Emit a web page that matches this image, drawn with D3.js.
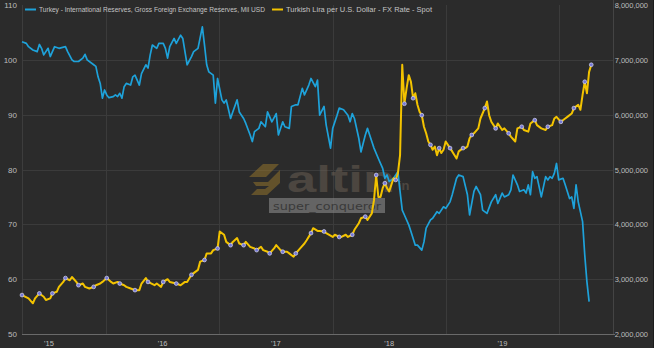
<!DOCTYPE html>
<html>
<head>
<meta charset="utf-8">
<script src="https://cdn.jsdelivr.net/npm/d3@7"></script>
<style>
  html, body { margin: 0; padding: 0; background: #2b2b2b; }
  svg { display: block; font-family: "Liberation Sans", Arial, sans-serif; }
</style>
</head>
<body>
<svg id="chart" width="654" height="348"></svg>
<script>
// weekly readings, "year-week" (%Y-%W)
const reserveWeeks = [
  "2015-14","2015-16","2015-17","2015-19","2015-21","2015-22","2015-23","2015-24","2015-26","2015-27","2015-29","2015-31","2015-34","2015-35","2015-37","2015-38","2015-40","2015-42","2015-43","2015-44","2015-47","2015-48","2015-49","2015-50","2015-51",
  "2016-0","2016-1","2016-2","2016-4","2016-5","2016-6","2016-7","2016-8","2016-9","2016-10","2016-12","2016-13","2016-14","2016-16","2016-17","2016-19","2016-20","2016-21","2016-22","2016-24","2016-25","2016-27","2016-28","2016-29","2016-30","2016-32","2016-33","2016-35","2016-36","2016-38","2016-40","2016-41","2016-43","2016-45","2016-46","2016-47","2016-48","2016-50","2016-51",
  "2017-0","2017-2","2017-3","2017-4","2017-6","2017-7","2017-9","2017-10","2017-12","2017-13","2017-15","2017-16","2017-17","2017-19","2017-20","2017-22","2017-23","2017-25","2017-27","2017-28","2017-30","2017-31","2017-33","2017-34","2017-36","2017-37","2017-39","2017-40","2017-42","2017-43","2017-45","2017-46","2017-47","2017-49","2017-50","2017-52",
  "2018-1","2018-3","2018-4","2018-6","2018-8","2018-9","2018-10","2018-11","2018-13","2018-14","2018-16","2018-17","2018-19","2018-20","2018-22","2018-24","2018-25","2018-26","2018-27","2018-29","2018-31","2018-32","2018-33","2018-34","2018-36","2018-37","2018-39","2018-40","2018-42","2018-43","2018-44","2018-46","2018-47","2018-49","2018-50","2018-52",
  "2019-0","2019-2","2019-3","2019-5","2019-6","2019-8","2019-10","2019-11","2019-13","2019-14","2019-16","2019-17","2019-19","2019-21","2019-23","2019-24","2019-26","2019-27","2019-29","2019-30","2019-31","2019-33","2019-34","2019-36","2019-37","2019-38","2019-39","2019-40","2019-41","2019-42","2019-44","2019-46","2019-47","2019-48","2019-49","2019-50","2019-51",
  "2020-0","2020-2","2020-3","2020-5","2020-6","2020-7","2020-8","2020-9","2020-11","2020-12","2020-13","2020-14"
];
// millions (right axis)
const reserveMn = [
  7.33,7.30,7.24,7.18,7.15,7.28,7.21,7.09,7.21,7.06,7.24,7.21,7.24,7.15,7.00,6.97,6.97,7.03,7.10,7.00,6.91,6.88,6.69,6.57,6.30,
  6.45,6.36,6.31,6.33,6.36,6.33,6.39,6.30,6.51,6.57,6.54,6.69,6.72,6.54,6.75,6.91,6.85,7.09,7.27,7.21,7.30,7.30,7.21,7.03,7.24,7.39,7.30,7.45,7.39,6.91,7.06,7.15,7.21,7.60,7.27,6.91,6.78,6.72,6.21,
  6.66,6.27,6.21,6.27,5.93,6.05,6.27,6.05,5.93,5.84,5.63,5.51,5.69,5.75,5.87,5.78,6.05,5.87,6.02,5.63,5.87,5.78,5.75,6.15,6.18,6.18,6.48,6.36,6.54,6.66,6.51,6.63,5.99,6.15,5.81,5.39,
  5.75,5.99,6.12,6.09,5.99,5.87,6.02,5.93,5.57,5.32,5.63,5.75,5.51,5.39,5.20,5.02,4.84,4.90,4.78,4.84,4.96,4.60,4.26,4.17,3.99,3.87,3.62,3.62,3.53,3.68,3.93,4.08,4.11,4.23,4.20,4.32,
  4.29,4.41,4.54,4.84,4.90,4.87,4.54,4.17,4.60,4.69,4.54,4.26,4.20,4.41,4.54,4.38,4.57,4.50,4.54,4.63,4.90,4.72,4.60,4.63,4.57,4.72,4.54,4.96,4.84,4.87,4.50,4.87,4.81,4.87,4.84,4.93,5.11,
  4.81,4.84,4.72,4.47,4.50,4.29,4.72,4.41,4.05,3.44,2.95,2.59
];

const liraWeeks = [
  "2015-14","2015-17","2015-19","2015-20","2015-22","2015-24","2015-25","2015-27","2015-28","2015-30","2015-31","2015-33","2015-34","2015-36","2015-37","2015-39","2015-40","2015-42","2015-43","2015-45","2015-47","2015-48","2015-50","2015-51",
  "2016-1","2016-3","2016-4","2016-6","2016-7","2016-9","2016-10","2016-12","2016-14","2016-16","2016-17","2016-19","2016-20","2016-23","2016-24","2016-26","2016-27","2016-29","2016-30","2016-32","2016-33","2016-35","2016-37","2016-38","2016-40","2016-41","2016-43","2016-44","2016-46","2016-47","2016-49","2016-50",
  "2017-0","2017-1","2017-3","2017-4","2017-6","2017-7","2017-9","2017-10","2017-12","2017-13","2017-15","2017-17","2017-18","2017-20","2017-21","2017-23","2017-24","2017-26","2017-27","2017-29","2017-30","2017-32","2017-33","2017-35","2017-36","2017-38","2017-40","2017-41","2017-43","2017-44","2017-46","2017-47","2017-49","2017-50",
  "2018-1","2018-2","2018-4","2018-5","2018-7","2018-8","2018-10","2018-11","2018-13","2018-14","2018-16","2018-17","2018-19","2018-20","2018-21","2018-22","2018-23","2018-24","2018-25","2018-26","2018-27","2018-29","2018-30","2018-31","2018-32","2018-33","2018-34","2018-35","2018-36","2018-37","2018-38","2018-39","2018-40","2018-41","2018-42","2018-43","2018-44","2018-45","2018-46","2018-47","2018-48","2018-49","2018-50","2018-51","2018-52",
  "2019-0","2019-2","2019-3","2019-5","2019-6","2019-8","2019-9","2019-10","2019-11","2019-12","2019-13","2019-15","2019-16","2019-18","2019-19","2019-20","2019-21","2019-23","2019-24","2019-26","2019-27","2019-29","2019-30","2019-32","2019-33","2019-35","2019-36","2019-38","2019-39","2019-41","2019-42","2019-44","2019-46","2019-47","2019-49","2019-50","2019-51",
  "2020-1","2020-3","2020-4","2020-6","2020-7","2020-9","2020-10","2020-11","2020-12","2020-13","2020-14","2020-15"
];
// left axis
const liraValues = [
  57.1,56.5,55.6,56.5,57.4,56.8,56.2,56.5,57.4,57.7,58.6,59.5,60.2,59.8,60.4,59.5,58.9,59.2,58.6,58.3,58.6,58.9,59.2,59.5,
  60.2,59.5,59.2,59.5,59.2,58.9,58.6,58.3,58.0,58.0,59.2,60.2,59.5,58.9,59.2,58.6,59.5,60.0,59.5,59.3,59.2,58.9,59.5,59.5,60.8,61.1,61.7,63.2,63.5,64.7,64.7,65.3,
  65.6,68.7,68.1,66.8,66.2,66.8,67.5,66.5,66.2,66.8,65.9,65.6,65.3,65.9,65.3,65.0,64.7,65.6,66.2,65.3,65.0,65.0,64.7,64.1,64.7,65.6,66.5,67.1,68.4,69.3,68.8,68.8,68.7,68.4,
  67.7,68.1,67.7,67.7,68.1,67.7,68.1,69.0,70.2,71.1,71.4,70.8,72.0,74.4,79.0,75.0,75.0,76.6,77.5,76.6,76.0,78.4,78.1,79.3,82.6,99.1,92.0,94.8,97.2,96.0,93.0,93.9,91.8,90.5,89.9,87.8,86.6,85.1,84.5,83.6,84.2,82.6,83.9,83.0,83.6,
  85.1,83.9,83.3,82.0,83.3,83.9,83.9,84.2,85.7,86.3,86.6,87.5,89.3,91.2,92.4,89.9,88.7,87.5,88.4,87.2,87.5,86.6,86.0,85.1,87.5,87.8,87.2,86.9,88.4,89.0,88.1,87.5,87.2,87.8,88.1,89.3,89.6,
  88.7,89.3,89.6,90.2,91.2,91.8,90.9,93.6,96.0,93.9,97.8,99.1
];

const leftTicks = [50, 60, 70, 80, 90, 100, 110];
const rightTicksMn = [2, 3, 4, 5, 6, 7, 8];
const yearStarts = ["2016-01-01", "2017-01-01", "2018-01-01", "2019-01-01", "2020-01-01"];
const yearMids = ["2015-07-02", "2016-07-02", "2017-07-02", "2018-07-02", "2019-07-02"];
const yearLabels = ["'15", "'16", "'17", "'18", "'19"];
const xRange = ["2015-04-06", "2020-06-22"];

const seriesNames = [
  "Turkey - International Reserves, Gross Foreign Exchange Reserves, Mil USD",
  "Turkish Lira per U.S. Dollar - FX Rate - Spot"
];

const blue = "#1ea2da";
const yellow = "#f3c300";

const svg = d3.select("#chart");
const W = 654, H = 348;
const plotL = 22, plotR = 613, plotT = 5, plotB = 334;

const parseWeek = d3.timeParse("%Y-%W");
const parseDay = d3.timeParse("%Y-%m-%d");

const x = d3.scaleTime().domain(xRange.map(parseDay)).range([plotL, plotR]);
const yL = d3.scaleLinear().domain([50, 110]).range([plotB, plotT]);
const yR = d3.scaleLinear().domain([2, 8]).range([plotB, plotT]);

svg.append("rect").attr("width", W).attr("height", H).attr("fill", "#2b2b2b");

// grid
svg.append("g").selectAll("line")
    .data(leftTicks.slice(1, -1))
    .enter().append("line")
    .attr("x1", plotL).attr("x2", plotR)
    .attr("y1", d => Math.round(yL(d)) + 0.5).attr("y2", d => Math.round(yL(d)) + 0.5)
    .attr("stroke", "#3b3b3b").attr("stroke-width", 1);

svg.append("g").selectAll("line")
    .data(yearStarts.map(parseDay))
    .enter().append("line")
    .attr("x1", d => Math.round(x(d)) + 0.5).attr("x2", d => Math.round(x(d)) + 0.5)
    .attr("y1", plotT).attr("y2", plotB)
    .attr("stroke", "#3b3b3b").attr("stroke-width", 1);

// frame lines
svg.append("line").attr("x1", plotL + 0.5).attr("x2", plotL + 0.5).attr("y1", plotT).attr("y2", plotB)
    .attr("stroke", "#3d3d3d");
svg.append("line").attr("x1", plotR + 0.5).attr("x2", plotR + 0.5).attr("y1", 0).attr("y2", plotB)
    .attr("stroke", "#444");
svg.append("line").attr("x1", plotL).attr("x2", plotR + 2).attr("y1", plotB + 0.5).attr("y2", plotB + 0.5)
    .attr("stroke", "#6a6a6a");
svg.append("line").attr("x1", W - 0.5).attr("x2", W - 0.5).attr("y1", 0).attr("y2", H)
    .attr("stroke", "#1b1b1b");

// watermark
const wm = svg.append("g").attr("opacity", 0.5);
wm.append("path")
    .attr("d", "M249,177 L263,164 L279,164 L266,177 Z M253,182 L268,182 L280,170 L280,183 L267,195 L251,195 L257,189 L265,189 L269,186 L256,186 Z")
    .attr("fill", "#9b7a2c");
wm.append("text").attr("x", 287).attr("y", 192)
    .attr("font-size", 36).attr("font-weight", "bold")
    .attr("textLength", 108).attr("lengthAdjust", "spacingAndGlyphs")
    .attr("fill", "#6d6256").text("altin");
wm.append("text").attr("x", 398).attr("y", 190)
    .attr("font-size", 13).attr("font-weight", "bold")
    .attr("fill", "#6d6256").text("in");
svg.append("rect").attr("x", 269).attr("y", 198).attr("width", 116).attr("height", 15)
    .attr("fill", "#8a8a8a").attr("opacity", 0.6);
svg.append("text").attr("x", 273).attr("y", 210)
    .attr("font-size", 11).attr("fill", "#3a3a3a")
    .attr("font-family", "'DejaVu Sans', sans-serif")
    .attr("textLength", 108).attr("lengthAdjust", "spacingAndGlyphs")
    .text("super_conqueror");

// series
const reserves = d3.zip(reserveWeeks.map(parseWeek), reserveMn);
const lira = d3.zip(liraWeeks.map(parseWeek), liraValues);

svg.append("path").datum(reserves)
    .attr("fill", "none").attr("stroke", blue).attr("stroke-width", 1.7)
    .attr("stroke-linejoin", "round")
    .attr("d", d3.line().x(d => x(d[0])).y(d => yR(d[1])));

svg.append("path").datum(lira)
    .attr("fill", "none").attr("stroke", yellow).attr("stroke-width", 2)
    .attr("stroke-linejoin", "round")
    .attr("d", d3.line().x(d => x(d[0])).y(d => yL(d[1])));

svg.append("g").selectAll("circle")
    .data(lira.filter((d, i) => i % 4 === 0 || i === lira.length - 1))
    .enter().append("circle")
    .attr("cx", d => x(d[0])).attr("cy", d => yL(d[1]))
    .attr("r", 1.9)
    .attr("fill", "#7477d6").attr("stroke", "#d8d8ee").attr("stroke-width", 0.7);

// axes text
const tickColor = "#bdbdbd";
svg.append("g").selectAll("text")
    .data(leftTicks)
    .enter().append("text")
    .attr("x", 17).attr("y", d => yL(d) + 3)
    .attr("text-anchor", "end").attr("font-size", 8).attr("fill", tickColor)
    .text(d => d);

svg.append("g").selectAll("text")
    .data(rightTicksMn)
    .enter().append("text")
    .attr("x", 648).attr("y", d => yR(d) + 3)
    .attr("text-anchor", "end").attr("font-size", 7.5).attr("fill", tickColor)
    .text(d => d3.format(",")(d * 1e6));

svg.append("g").selectAll("text")
    .data(yearMids.map(parseDay))
    .enter().append("text")
    .attr("x", d => x(d)).attr("y", 346)
    .attr("text-anchor", "middle").attr("font-size", 7.5).attr("fill", tickColor)
    .text((d, i) => yearLabels[i]);

// legend
const legend = svg.append("g");
const legendX = [25, 272];
const legendLen = [226, 146];
[blue, yellow].forEach((c, i) => {
    legend.append("line")
        .attr("x1", legendX[i]).attr("x2", legendX[i] + 11)
        .attr("y1", 9.5).attr("y2", 9.5)
        .attr("stroke", c).attr("stroke-width", 2);
    legend.append("text")
        .attr("x", legendX[i] + 14).attr("y", 12)
        .attr("font-size", 7).attr("fill", "#c4c4c4")
        .attr("textLength", legendLen[i]).attr("lengthAdjust", "spacingAndGlyphs")
        .text(seriesNames[i]);
});
</script>
</body>
</html>
